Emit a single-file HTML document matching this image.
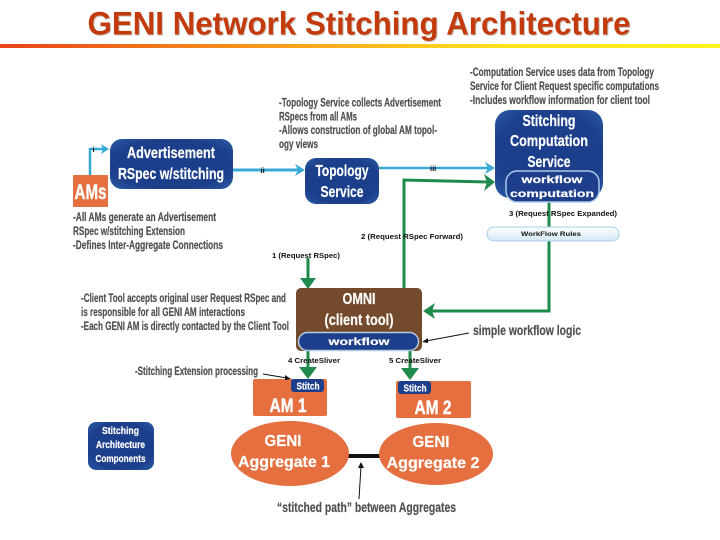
<!DOCTYPE html>
<html><head><meta charset="utf-8"><style>
html,body{margin:0;padding:0;background:#fff}
svg{display:block;filter:blur(.3px)}
text{font-family:"Liberation Sans Narrow","Liberation Sans",sans-serif}
.n{fill:#505050;stroke:#505050;stroke-width:.2px;font-weight:bold;font-size:11.5px}
.c{font-family:"Liberation Sans",sans-serif;fill:#111;font-weight:bold;font-size:7.5px}
.w{fill:#fff;stroke:#fff;stroke-width:.2px;font-weight:bold;text-anchor:middle}
.e{font-family:"Liberation Sans",sans-serif}
</style></head><body>
<svg width="720" height="540" viewBox="0 0 720 540" xmlns="http://www.w3.org/2000/svg">
<defs>
<linearGradient id="bar"><stop offset="0" stop-color="#e8431a"/><stop offset=".4" stop-color="#f8a01c"/><stop offset=".7" stop-color="#fde21e"/><stop offset="1" stop-color="#fff21e"/></linearGradient>
<radialGradient id="blue" cx=".5" cy=".5" r=".7"><stop offset="0" stop-color="#1b3f8c"/><stop offset=".7" stop-color="#1d3f8b"/><stop offset="1" stop-color="#2a5ca6"/></radialGradient>
<linearGradient id="pill" x1="0" y1="0" x2="0" y2="1"><stop offset="0" stop-color="#fff"/><stop offset="1" stop-color="#d3e8f5"/></linearGradient>
</defs>
<rect width="720" height="540" fill="#fff"/>
<text x="88.500" y="35.500" font-size="32" font-weight="bold" textLength="543" lengthAdjust="spacingAndGlyphs" fill="#c9c0b8" style="font-family:'Liberation Sans',sans-serif">GENI Network Stitching Architecture</text>
<text x="87.500" y="34.500" font-size="32" font-weight="bold" textLength="543" lengthAdjust="spacingAndGlyphs" fill="#c33a0c" style="font-family:'Liberation Sans',sans-serif">GENI Network Stitching Architecture</text>
<rect x="0" y="44" width="720" height="4" fill="url(#bar)"/>

<!-- blue connectors -->
<g fill="none" stroke="#38a9d6">
<path d="M90 175V149H105" stroke-width="2.500"/>
<path d="M233 170H301" stroke-width="3"/>
<path d="M379 168H491" stroke-width="2.500"/>
</g>
<g fill="#38a9d6">
<path d="M109 149L101 144L103 149L101 154Z"/>
<path d="M305 170L295 164L298 170L295 176Z"/>
<path d="M495 168L485 162L488 168L485 174Z"/>
</g>
<!-- green connectors -->
<g fill="none" stroke="#1f8a4c" stroke-width="3">
<path d="M404 288V180L488 182"/>
<path d="M549 202V311H431"/>
<path d="M308 258V282"/>
<path d="M308 351V371"/>
<path d="M410 351V372"/>
</g>
<g fill="#1f8a4c">
<path d="M495 182L484 174L487 182L484 191Z"/>
<path d="M423 311L435 303L432 311L435 319Z"/>
<path d="M308 289L300 278H316Z"/>
<path d="M308 379L299 367H317Z"/>
<path d="M410 380L401 368H419Z"/>
</g>

<!-- blue boxes -->
<rect x="110" y="139" width="123" height="50" rx="12" fill="url(#blue)"/>
<text class="w" x="171" y="158" font-size="16" textLength="88" lengthAdjust="spacingAndGlyphs">Advertisement</text>
<text class="w" x="171" y="179" font-size="16" textLength="106" lengthAdjust="spacingAndGlyphs">RSpec w/stitching</text>
<rect x="305" y="158" width="74" height="46" rx="11" fill="url(#blue)"/>
<text class="w" x="342" y="176" font-size="16" textLength="53" lengthAdjust="spacingAndGlyphs">Topology</text>
<text class="w" x="342" y="197" font-size="16" textLength="43" lengthAdjust="spacingAndGlyphs">Service</text>
<rect x="495" y="110" width="108" height="88" rx="15" fill="url(#blue)"/>
<text class="w" x="549" y="126" font-size="16" textLength="53" lengthAdjust="spacingAndGlyphs">Stitching</text>
<text class="w" x="549" y="146" font-size="16" textLength="78" lengthAdjust="spacingAndGlyphs">Computation</text>
<text class="w" x="549" y="167" font-size="16" textLength="43" lengthAdjust="spacingAndGlyphs">Service</text>
<rect x="506" y="171" width="93" height="31" rx="11" fill="#1d3f8b" stroke="#a9c9e8" stroke-width="1.500"/>
<text class="w e" x="552" y="183" font-size="10.500" textLength="61" lengthAdjust="spacingAndGlyphs">workflow</text>
<text class="w e" x="552" y="197" font-size="10.500" textLength="84" lengthAdjust="spacingAndGlyphs">computation</text>
<rect x="487" y="227" width="132" height="14" rx="7" fill="url(#pill)" stroke="#a9cfe8"/>
<text class="c" x="521" y="236" textLength="60" lengthAdjust="spacingAndGlyphs" style="font-size:6.500px">WorkFlow Rules</text>

<!-- AMs -->
<rect x="73" y="175" width="35" height="32" rx="1" fill="#e56f3f"/>
<text class="w" x="90.500" y="199" font-size="21" textLength="32" lengthAdjust="spacingAndGlyphs" style="stroke-width:.4px">AMs</text>

<!-- OMNI -->
<rect x="296" y="288" width="126" height="63" rx="5" fill="#744a2c"/>
<text class="w" x="359" y="304" font-size="16" textLength="33" lengthAdjust="spacingAndGlyphs">OMNI</text>
<text class="w" x="359" y="325" font-size="16" textLength="69" lengthAdjust="spacingAndGlyphs">(client tool)</text>
<rect x="298.500" y="332.500" width="120" height="18" rx="9" fill="#1d3f8b" stroke="#b4cbe4" stroke-width="1.500"/>
<text class="w e" x="359" y="345" font-size="10.500" textLength="61" lengthAdjust="spacingAndGlyphs">workflow</text>

<!-- AM boxes -->
<rect x="253" y="379" width="74" height="37" rx="2" fill="#e56f3f"/>
<text class="w" x="288" y="412" font-size="19" textLength="37" lengthAdjust="spacingAndGlyphs" style="stroke-width:.4px">AM 1</text>
<rect x="291" y="379" width="33" height="13" rx="3" fill="#1d3f8b"/>
<text class="w" x="308" y="389.500" font-size="10" textLength="23" lengthAdjust="spacingAndGlyphs">Stitch</text>
<rect x="396" y="381" width="75" height="37" rx="2" fill="#e56f3f"/>
<text class="w" x="433" y="414" font-size="19" textLength="37" lengthAdjust="spacingAndGlyphs" style="stroke-width:.4px">AM 2</text>
<rect x="398" y="381" width="33" height="13" rx="3" fill="#1d3f8b"/>
<text class="w" x="415" y="391.500" font-size="10" textLength="23" lengthAdjust="spacingAndGlyphs">Stitch</text>

<!-- aggregates -->
<rect x="345" y="454" width="38" height="4" fill="#111"/>
<ellipse cx="290" cy="453.500" rx="59" ry="32.500" fill="#e56f3f"/>
<ellipse cx="436" cy="454" rx="57" ry="31" fill="#e56f3f"/>
<text class="w e" x="283" y="446" font-size="15.500" textLength="37" lengthAdjust="spacingAndGlyphs">GENI</text>
<text class="w e" x="284" y="467" font-size="15.500" textLength="92" lengthAdjust="spacingAndGlyphs">Aggregate 1</text>
<text class="w e" x="431" y="447" font-size="15.500" textLength="37" lengthAdjust="spacingAndGlyphs">GENI</text>
<text class="w e" x="433" y="468" font-size="15.500" textLength="93" lengthAdjust="spacingAndGlyphs">Aggregate 2</text>

<!-- legend -->
<rect x="88" y="422" width="66" height="48" rx="8" fill="url(#blue)"/>
<text class="w" x="120.500" y="434" font-size="10.500" textLength="37" lengthAdjust="spacingAndGlyphs">Stitching</text>
<text class="w" x="120.500" y="448" font-size="10.500" textLength="49" lengthAdjust="spacingAndGlyphs">Architecture</text>
<text class="w" x="120.500" y="462" font-size="10.500" textLength="50" lengthAdjust="spacingAndGlyphs">Components</text>

<!-- black annotation arrows -->
<g stroke="#111" stroke-width="1" fill="none">
<path d="M263 374L287 378"/>
<path d="M469 333L426 341"/>
<path d="M359 499L361 466"/>
</g>
<g fill="#111">
<path d="M291 379L285 375L285 380Z"/>
<path d="M422 342L428 338L428 343Z"/>
<path d="M361 462L358 468L364 468Z"/>
</g>

<!-- notes -->
<text class="n" x="279" y="106.500" textLength="162" lengthAdjust="spacingAndGlyphs">-Topology Service collects Advertisement</text>
<text class="n" x="279" y="120.500" textLength="78" lengthAdjust="spacingAndGlyphs">RSpecs from all AMs</text>
<text class="n" x="279" y="134" textLength="158" lengthAdjust="spacingAndGlyphs">-Allows construction of global AM topol-</text>
<text class="n" x="279" y="148" textLength="39" lengthAdjust="spacingAndGlyphs">ogy views</text>
<text class="n" x="470" y="76" textLength="184" lengthAdjust="spacingAndGlyphs">-Computation Service uses data from Topology</text>
<text class="n" x="470" y="90" textLength="189" lengthAdjust="spacingAndGlyphs">Service for Client Request specific computations</text>
<text class="n" x="470" y="104" textLength="180" lengthAdjust="spacingAndGlyphs">-Includes workflow information for client tool</text>
<text class="n" x="73" y="221" textLength="143" lengthAdjust="spacingAndGlyphs">-All AMs generate an Advertisement</text>
<text class="n" x="73" y="235" textLength="112" lengthAdjust="spacingAndGlyphs">RSpec w/stitching Extension</text>
<text class="n" x="73" y="249" textLength="150" lengthAdjust="spacingAndGlyphs">-Defines Inter-Aggregate Connections</text>
<text class="n" x="81" y="302" textLength="205" lengthAdjust="spacingAndGlyphs">-Client Tool accepts original user Request RSpec and</text>
<text class="n" x="81" y="316" textLength="164" lengthAdjust="spacingAndGlyphs">is responsible for all GENI AM interactions</text>
<text class="n" x="81" y="330" textLength="208" lengthAdjust="spacingAndGlyphs">-Each GENI AM is directly contacted by the Client Tool</text>
<text class="n" x="135" y="375" textLength="123" lengthAdjust="spacingAndGlyphs">-Stitching Extension processing</text>
<text class="n" x="473" y="335" style="font-size:14px" textLength="108" lengthAdjust="spacingAndGlyphs">simple workflow logic</text>
<text class="n" x="277" y="512" style="font-size:14px" textLength="179" lengthAdjust="spacingAndGlyphs">“stitched path” between Aggregates</text>

<!-- connector labels -->
<text class="c" x="92.500" y="152">i</text>
<text class="c" x="260.500" y="173">ii</text>
<text class="c" x="430" y="171">iii</text>
<text class="c" x="272" y="258" textLength="68" lengthAdjust="spacingAndGlyphs">1 (Request RSpec)</text>
<text class="c" x="361" y="239" textLength="102" lengthAdjust="spacingAndGlyphs">2 (Request RSpec Forward)</text>
<text class="c" x="509" y="216" textLength="108" lengthAdjust="spacingAndGlyphs">3 (Request RSpec Expanded)</text>
<text class="c" x="288" y="363" textLength="52" lengthAdjust="spacingAndGlyphs">4 CreateSliver</text>
<text class="c" x="389" y="363" textLength="52" lengthAdjust="spacingAndGlyphs">5 CreateSliver</text>
</svg>
</body></html>
